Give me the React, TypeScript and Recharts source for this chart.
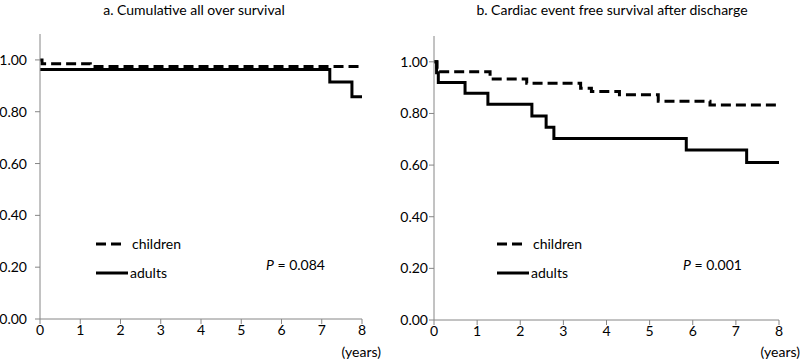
import { LineChart, Line, XAxis, YAxis } from 'recharts'

// survival curves (time in years, proportion surviving)
const leftChildren = [
  { t: 0, s: 1.0 }, { t: 0.05, s: 0.985 }, { t: 1.25, s: 0.975 }, { t: 8, s: 0.975 },
]
const leftAdults = [
  { t: 0, s: 0.963 }, { t: 7.2, s: 0.915 }, { t: 7.75, s: 0.858 }, { t: 8, s: 0.858 },
]
const rightChildren = [
  { t: 0, s: 1.0 }, { t: 0.07, s: 0.962 }, { t: 1.3, s: 0.933 }, { t: 2.15, s: 0.917 },
  { t: 3.4, s: 0.898 }, { t: 3.65, s: 0.885 }, { t: 4.3, s: 0.872 }, { t: 5.2, s: 0.847 },
  { t: 6.4, s: 0.833 }, { t: 8, s: 0.833 },
]
const rightAdults = [
  { t: 0, s: 1.0 }, { t: 0.06, s: 0.958 }, { t: 0.1, s: 0.92 }, { t: 0.72, s: 0.878 },
  { t: 1.25, s: 0.836 }, { t: 2.27, s: 0.79 }, { t: 2.6, s: 0.747 }, { t: 2.78, s: 0.703 },
  { t: 5.85, s: 0.658 }, { t: 7.25, s: 0.61 }, { t: 8, s: 0.61 },
]
const xTicks = [0, 1, 2, 3, 4, 5, 6, 7, 8]
const yTicks = [0, 0.2, 0.4, 0.6, 0.8, 1.0]

const FONT = 'Lato, "Open Sans", sans-serif'
const AXIS = '#868686'
const tickStyle = { fill: '#000', fontSize: 14, fontFamily: FONT }

interface PanelProps {
  left: number
  title: string
  titleX: number
  children: { t: number; s: number }[]
  adults: { t: number; s: number }[]
  yWidth: number
  yTickMargin: number
  margin: { top: number; right: number; bottom: number; left: number }
  pValue: string
  pX: number
  legendX: number
  yearsRight: number
}

function Panel(p: PanelProps) {
  return (
    <div style={{ position: 'absolute', left: p.left, top: 0, width: 400, height: 361, fontFamily: FONT }}>
      <div style={{ position: 'absolute', left: p.titleX - 200, top: 1, width: 400, textAlign: 'center', fontSize: 14 }}>
        {p.title}
      </div>
      <LineChart width={400} height={361} margin={p.margin}>
        <XAxis
          type="number"
          dataKey="t"
          domain={[0, 8]}
          ticks={xTicks}
          height={30}
          tickSize={5}
          tickMargin={1}
          stroke={AXIS}
          tick={tickStyle}
        />
        <YAxis
          type="number"
          domain={[0, 1.1]}
          ticks={yTicks}
          width={p.yWidth}
          tickSize={5}
          tickMargin={p.yTickMargin}
          stroke={AXIS}
          tick={tickStyle}
          tickFormatter={(v: number) => v.toFixed(2)}
        />
        <Line data={p.children} dataKey="s" type="stepAfter" stroke="#000" strokeWidth={3}
          strokeDasharray="10 5" dot={false} isAnimationActive={false} />
        <Line data={p.adults} dataKey="s" type="stepAfter" stroke="#000" strokeWidth={3}
          dot={false} isAnimationActive={false} />
      </LineChart>
      <svg style={{ position: 'absolute', left: 0, top: 0 }} width={400} height={361}>
        <line x1={p.legendX} x2={p.legendX + 30} y1={244} y2={244} stroke="#000" strokeWidth={3} strokeDasharray="10 5" />
        <line x1={p.legendX} x2={p.legendX + 32} y1={273} y2={273} stroke="#000" strokeWidth={3} />
      </svg>
      <div style={{ position: 'absolute', left: p.legendX + 36, top: 235, fontSize: 14 }}>children</div>
      <div style={{ position: 'absolute', left: p.legendX + 34, top: 264, fontSize: 14 }}>adults</div>
      <div style={{ position: 'absolute', left: p.pX, top: 256, fontSize: 14 }}>
        <i>P</i> = {p.pValue}
      </div>
      <div style={{ position: 'absolute', right: p.yearsRight, top: 343, fontSize: 14 }}>
        (years)
      </div>
    </div>
  )
}

export default function App() {
  return (
    <div style={{ position: 'absolute', left: 0, top: 0, width: 800, height: 361, background: '#fff' }}>
      <Panel
        left={0}
        title="a. Cumulative all over survival"
        titleX={194}
        children={leftChildren}
        adults={leftAdults}
        yWidth={40}
        yTickMargin={8}
        margin={{ top: 34, right: 38, bottom: 12, left: 0 }}
        pValue="0.084"
        pX={266}
        legendX={96}
        yearsRight={19}
      />
      <Panel
        left={400}
        title="b. Cardiac event free survival after discharge"
        titleX={212}
        children={rightChildren}
        adults={rightAdults}
        yWidth={34}
        yTickMargin={1}
        margin={{ top: 36, right: 21, bottom: 11, left: 0 }}
        pValue="0.001"
        pX={283}
        legendX={97}
        yearsRight={0}
      />
    </div>
  )
}
